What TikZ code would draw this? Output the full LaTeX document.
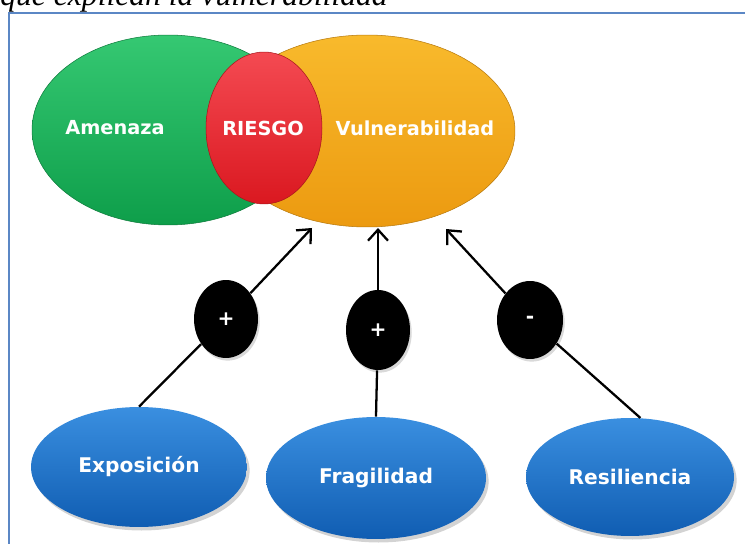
\documentclass[tikz,border=0pt]{standalone}
\usepackage{fontspec}
\setmainfont{Liberation Serif}
\newfontfamily\diagfont{DejaVu Sans}
\usetikzlibrary{arrows.meta,shapes.geometric,shadows}

\definecolor{frameblue}{HTML}{5B87C5}
\definecolor{amzgreen}{HTML}{14AF55}
\definecolor{amzgreentop}{HTML}{35C872}
\definecolor{amzgreenbot}{HTML}{0E9E4A}
\definecolor{vulorange}{HTML}{F5A313}
\definecolor{vulorangetop}{HTML}{F8BA2C}
\definecolor{vulorangebot}{HTML}{EC9A10}
\definecolor{rsgred}{HTML}{EE1E28}
\definecolor{rsgredtop}{HTML}{F44A52}
\definecolor{rsgredbot}{HTML}{DA1820}
\definecolor{factblue}{HTML}{1A74D0}
\definecolor{factbluetop}{HTML}{3A8FE0}
\definecolor{factbluebot}{HTML}{105DB2}

\tikzset{
  bubble/.style={ellipse, inner sep=0pt},
  tag/.style={text=white, font=\diagfont\bfseries\fontsize{11}{13}\selectfont},
  sign/.style={bubble, fill=black, text=white,
    font=\diagfont\bfseries\fontsize{11.5}{13}\selectfont,
    drop shadow={shadow xshift=1pt, shadow yshift=-1.5pt, opacity=0.3}},
  factor/.style={bubble, top color=factbluetop, middle color=factblue,
    bottom color=factbluebot, text=white,
    font=\diagfont\bfseries\fontsize{11.5}{14}\selectfont,
    drop shadow={shadow xshift=1.5pt, shadow yshift=-2pt, opacity=0.35}},
  link/.style={line width=1.3pt, black},
  tip/.style={-{Straight Barb[length=2.2mm, width=4mm, line width=1.3pt]}},
}

\begin{document}
\begin{tikzpicture}[x=0.02cm, y=-0.02cm]
  \useasboundingbox (0,0) rectangle (745,544);
  \draw[frameblue, line width=0.9pt] (9,13) rectangle (780,580);
  \node[anchor=base east, inner sep=0pt, font=\itshape\fontsize{18}{20}\selectfont] (title) at (388,6) {que explican la vulnerabilidad};

  % Venn part
  \node[bubble, minimum width=5.44cm, minimum height=3.8cm, top color=amzgreentop,
    middle color=amzgreen, bottom color=amzgreenbot, draw=amzgreen!70!black, line width=0.3pt] (amenaza) at (168,130) {};
  \node[bubble, minimum width=5.92cm, minimum height=3.84cm, top color=vulorangetop,
    middle color=vulorange, bottom color=vulorangebot, draw=vulorange!75!black, line width=0.3pt] (vulner) at (367,131) {};
  \node[bubble, minimum width=2.32cm, minimum height=3.04cm, top color=rsgredtop,
    middle color=rsgred, bottom color=rsgredbot, draw=rsgred!70!black, line width=0.3pt] (riesgo) at (264,128) {};
  \node[tag] (amenaza-t) at (115,128) {Amenaza};
  \node[tag] (riesgo-t) at (263,128) {RIESGO};
  \node[tag] (vulner-t) at (415,128) {Vulnerabilidad};

  % factors
  \node[factor, minimum width=4.32cm, minimum height=2.4cm] (expo) at (139,467) {Exposición};
  \node[factor, minimum width=4.4cm, minimum height=2.44cm] (frag) at (376,478) {Fragilidad};
  \node[factor, minimum width=4.16cm, minimum height=2.36cm] (resil) at (630,477) {Resiliencia};

  \node[sign, minimum width=1.28cm, minimum height=1.56cm] (plus1) at (226,319) {+};
  \node[sign, minimum width=1.28cm, minimum height=1.6cm] (plus2) at (378,330) {+};
  \node[sign, minimum width=1.32cm, minimum height=1.56cm] (minus) at (530,320) {-};

  \coordinate (tipE) at (312,228);
  \coordinate (tipF) at (378,228);
  \coordinate (tipR) at (446,229);

  \draw[link] (expo.north) -- (plus1);
  \draw[link] (frag.north) -- (plus2);
  \draw[link] (resil.80) -- (minus);
  \draw[link, tip] (plus1) -- (tipE);
  \draw[link, tip] (plus2) -- (tipF);
  \draw[link, tip] (minus) -- (tipR);
\end{tikzpicture}
\end{document}
